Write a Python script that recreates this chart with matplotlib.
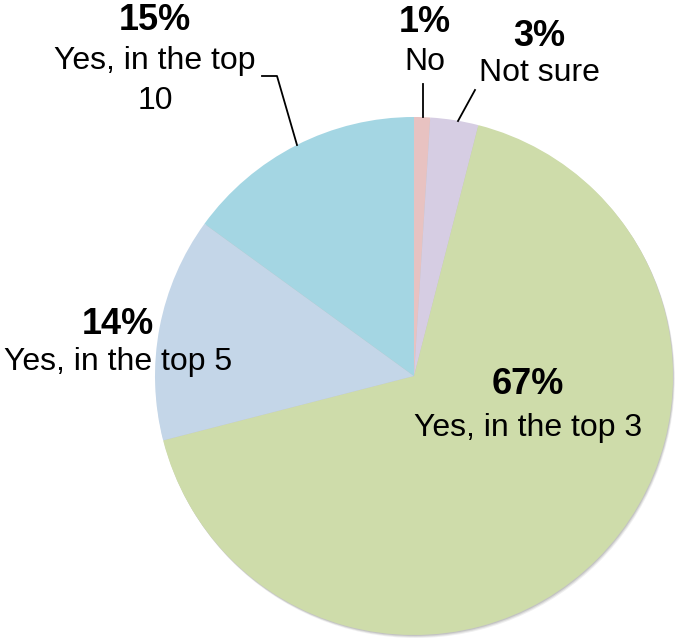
import matplotlib.pyplot as plt
from matplotlib.patches import Circle

# survey answers, clockwise from 12 o'clock
answers = ['No', 'Not sure', 'Yes, in the top 3', 'Yes, in the top 5', 'Yes, in the top\n10']
shares = [1, 3, 67, 14, 15]
colors = ['#E8C2C1', '#D6CDE3', '#CEDCAA', '#C4D6E8', '#A4D6E3']

plt.rcParams['font.family'] = ['Liberation Sans', 'DejaVu Sans']

W, H = 676, 640
cx, cy, r = 414, H - 376, 259
fig = plt.figure(figsize=(W / 100, H / 100), dpi=100)
ax = fig.add_axes([0, 0, 1, 1])

# soft drop shadow under the pie
for off, a in [(3, 0.12), (2, 0.18), (1, 0.25)]:
    ax.add_patch(Circle((cx + off * 0.6, cy - off), r, color='#808080', alpha=a, lw=0))

ax.pie(shares, colors=colors, startangle=90, counterclock=False,
       center=(cx, cy), radius=r, frame=True,
       wedgeprops=dict(linewidth=0))
ax.set_xlim(0, W)
ax.set_ylim(0, H)
ax.set_aspect('equal')
ax.axis('off')

# label positions in pixels (x, y of percentage line, y of text line)
label_pos = [(425, 22, 62), (539, 37, 73), (528, 385, 428), (118, 325, 362), (155, 20, 81)]
for ans, val, (x, y1, y2) in zip(answers, shares, label_pos):
    ax.text(x, H - y1, f'{val}%', ha='center', va='center', fontsize=26, fontweight='bold')
    ax.text(x, H - y2, ans, ha='center', va='center', fontsize=23, linespacing=1.45)

# leader lines
ax.plot([423, 423], [H - 84, H - 117], color='black', lw=1.3)
ax.plot([475, 458], [H - 90, H - 121], color='black', lw=1.3)
ax.plot([262, 277, 297], [H - 76, H - 76, H - 145], color='black', lw=1.3)

fig.savefig('out.png', dpi=100)
